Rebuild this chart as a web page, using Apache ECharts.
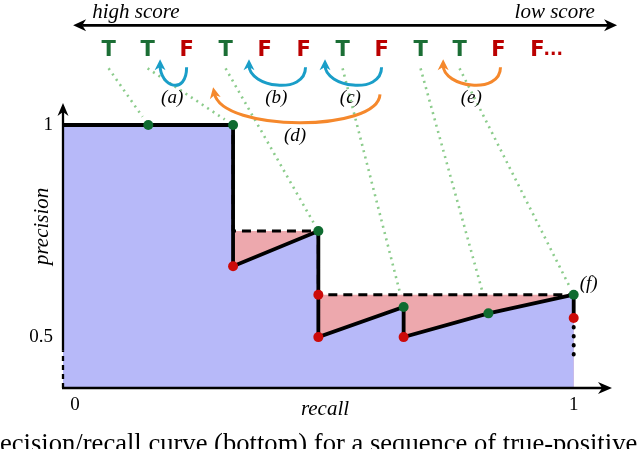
<!DOCTYPE html>
<html>
<head>
<meta charset="utf-8">
<title>precision / recall</title>
<script src="https://cdn.jsdelivr.net/npm/echarts@6/dist/echarts.min.js"></script>
<style>
  html, body { margin: 0; padding: 0; background: #fff; }
  #chart { width: 640px; height: 449px; }
</style>
</head>
<body>
<div id="chart"></div>
<script>
// ranked predictions, highest score first
const sequence = ['T', 'T', 'F', 'T', 'F', 'F', 'T', 'F', 'T', 'T', 'F', 'F'];
// recall / precision after each prediction (the last F is only hinted)
const recall = [0.167, 0.333, 0.333, 0.5, 0.5, 0.5, 0.667, 0.667, 0.833, 1, 1];
const precision = [1, 1, 0.667, 0.75, 0.6, 0.5, 0.571, 0.5, 0.556, 0.6, 0.545];
// interpolated precision (dashed envelope)
const envRecall = [0, 0.333, 0.333, 0.5, 0.5, 1];
const envPrecision = [1, 1, 0.75, 0.75, 0.6, 0.6];
const curveStart = [0, 1];
const tailEnd = 0.455; // dotted continuation at recall 1
const xTicks = [0, 1];
const yTicks = [0.5, 1];
// swaps under the sequence (positions in sequence index units)
const swaps = [
	{ name: '(a)', from: 2, to: 1.32, at: 1.63, kind: 'blue' },
	{ name: '(b)', from: 5.05, to: 3.6, at: 4.3, kind: 'blue' },
	{ name: '(c)', from: 7, to: 5.55, at: 6.2, kind: 'blue' },
	{ name: '(d)', from: 6.96, to: 2.68, at: 4.78, kind: 'orange', low: true },
	{ name: '(e)', from: 10.05, to: 8.58, at: 9.3, kind: 'orange' },
];

// layout
const X_MAX = 1.075, Y_MIN = 0.38, Y_MAX = 1.29;
const SEQ_MIN = -1.17, SEQ_MAX = 12.91;
const ROW = 1.176; // level of the letter row
const AXIS_TOP = 1.052, AXIS_BREAK = 0.469;
const SERIF = '"Liberation Serif", "DejaVu Serif", serif';
const BLUE_FILL = '#b7b9f9', PINK = '#eda8ad';
const GREEN = '#0f6b30', RED = '#cc0a0a';
const T_GREEN = '#1b6e35', F_RED = '#bb0000';
const ARROW_BLUE = '#1a9ec8', ARROW_ORANGE = '#f5882c', DOTS = '#8ccc8c';

// stealth-like arrow head, tip pointing away from "from"
function head(tip, from, len, wid, color) {
	let dx = tip[0] - from[0], dy = tip[1] - from[1];
	const d = Math.hypot(dx, dy);
	dx /= d; dy /= d;
	const bx = tip[0] - dx * len, by = tip[1] - dy * len;
	const nx = tip[0] - dx * len * 0.7, ny = tip[1] - dy * len * 0.7;
	return {
		type: 'polygon',
		shape: { points: [tip, [bx - dy * wid / 2, by + dx * wid / 2], [nx, ny], [bx + dy * wid / 2, by - dx * wid / 2]] },
		style: { fill: color },
	};
}
function pullBack(tip, from, dist) {
	const dx = tip[0] - from[0], dy = tip[1] - from[1];
	const d = Math.hypot(dx, dy);
	return [tip[0] - dx / d * dist, tip[1] - dy / d * dist];
}

const pts = recall.map((r, i) => [r, precision[i]]);
const tIdx = [], fIdx = [];
sequence.forEach((s, i) => {
	if (i >= recall.length) return;
	(s === 'T' ? tIdx : fIdx).push(i);
});
const greenData = tIdx.map((i, k) => {
	const item = { value: pts[i] };
	if (k === tIdx.length - 1) {
		item.label = {
			show: true, formatter: '(f)', position: 'right', distance: 1, offset: [0, -11],
			fontFamily: SERIF, fontStyle: 'italic', fontSize: 19, color: '#000',
		};
	}
	return item;
});

const chart = echarts.init(document.getElementById('chart'), null, { renderer: 'canvas' });

const option = {
	animation: false,
	title: {
		text: 'ecision/recall curve (bottom) for a sequence of true-positive',
		left: 0, top: 431, padding: 0,
		textStyle: { fontFamily: SERIF, fontSize: 26.6, fontWeight: 'normal', color: '#000', lineHeight: 28 },
	},
	grid: { left: 63, right: 28, top: 2, bottom: 61, outerBoundsMode: 'none' },
	xAxis: [
		{
			type: 'value', min: 0, max: X_MAX, position: 'bottom',
			axisLine: { show: false }, axisTick: { show: false }, splitLine: { show: false },
			axisLabel: {
				customValues: xTicks, margin: 8, fontSize: 19, fontFamily: SERIF, color: '#000',
				formatter: (v) => (v === 0 ? '{o|' + v + '}' : String(v)),
				rich: { o: { padding: [0, 0, 0, 24], fontSize: 19, fontFamily: SERIF, color: '#000' } },
			},
			name: 'recall', nameLocation: 'middle', nameGap: 11, nameMoveOverlap: false,
			nameTextStyle: { fontFamily: SERIF, fontStyle: 'italic', fontSize: 21, color: '#000', padding: [0, 25, 0, 0] },
		},
		{
			type: 'value', min: SEQ_MIN, max: SEQ_MAX, position: 'top', show: false,
		},
	],
	yAxis: {
		type: 'value', min: Y_MIN, max: Y_MAX,
		axisLine: { show: false }, axisTick: { show: false }, splitLine: { show: false },
		axisLabel: { customValues: yTicks, margin: 10, fontSize: 19, fontFamily: SERIF, color: '#000' },
	},
	series: [
		{
			// dotted guides from each T to its point
			type: 'custom', z: 1, silent: true,
			data: tIdx.map((i) => [recall[i], precision[i], i]),
			renderItem: (params, api) => {
				const cs = params.coordSys;
				const end = api.coord([api.value(0), api.value(1)]);
				const sx = cs.x + (api.value(2) - SEQ_MIN) / (SEQ_MAX - SEQ_MIN) * cs.width;
				const start = [sx, api.coord([0, ROW])[1] + 18];
				const e = pullBack(end, start, 10);
				return {
					type: 'line',
					shape: { x1: start[0], y1: start[1], x2: e[0], y2: e[1] },
					style: { stroke: DOTS, lineWidth: 2.6, lineDash: [2, 4.5] },
				};
			},
		},
		{
			// interpolated envelope area (pink shows between the curves)
			type: 'line', z: 2, silent: true, symbol: 'none',
			data: envRecall.map((r, i) => [r, envPrecision[i]]),
			lineStyle: { opacity: 0 },
			areaStyle: { color: PINK, opacity: 1, origin: 'start' },
		},
		{
			type: 'line', z: 3, silent: true, symbol: 'none',
			data: [curveStart].concat(pts),
			lineStyle: { opacity: 0 },
			areaStyle: { color: BLUE_FILL, opacity: 1, origin: 'start' },
		},
		{
			type: 'line', z: 4, silent: true, symbol: 'none',
			data: envRecall.map((r, i) => [r, envPrecision[i]]),
			lineStyle: { color: '#000', width: 3, type: [9, 6] },
		},
		{
			type: 'line', z: 5, silent: true, symbol: 'none',
			data: [curveStart].concat(pts),
			lineStyle: { color: '#000', width: 3.8, join: 'miter' },
		},
		{
			type: 'line', z: 5, silent: true, symbol: 'none',
			data: [pts[pts.length - 1], [1, tailEnd]],
			lineStyle: { color: '#000', width: 4, type: [0.5, 8.5], cap: 'round' },
		},
		{
			// axes with arrow heads, y axis broken below 0.5
			type: 'custom', z: 6, silent: true,
			data: [[0, Y_MIN]],
			renderItem: (params, api) => {
				const o = api.coord([0, Y_MIN]);
				const xe = api.coord([X_MAX, Y_MIN]);
				const yb = api.coord([0, AXIS_BREAK]);
				const yt = api.coord([0, AXIS_TOP]);
				const xl = pullBack(xe, o, 9);
				const yl = pullBack(yt, yb, 9);
				const lab = api.coord([0, 0.761]);
				return {
					type: 'group',
					children: [
						{ type: 'line', shape: { x1: o[0] - 1, y1: o[1], x2: xl[0], y2: xl[1] }, style: { stroke: '#000', lineWidth: 2.3 } },
						head(xe, o, 14, 12, '#000'),
						{ type: 'line', shape: { x1: yb[0], y1: yb[1], x2: yl[0], y2: yl[1] }, style: { stroke: '#000', lineWidth: 2.3 } },
						head(yt, yb, 13, 11, '#000'),
						{ type: 'line', shape: { x1: o[0], y1: o[1], x2: yb[0], y2: yb[1] }, style: { stroke: '#000', lineWidth: 2.3, lineDash: [5, 4] } },
						{
							type: 'text', x: lab[0] - 21, y: lab[1], rotation: Math.PI / 2,
							style: { text: 'precision', fill: '#000', font: 'italic 21px ' + SERIF, align: 'center', verticalAlign: 'middle' },
						},
					],
				};
			},
		},
		{
			type: 'scatter', z: 7, silent: true, symbolSize: 10,
			itemStyle: { color: GREEN, opacity: 1 },
			data: greenData,
		},
		{
			type: 'scatter', z: 7, silent: true, symbolSize: 10,
			itemStyle: { color: RED, opacity: 1 },
			data: fIdx.map((i) => pts[i]),
		},
		{
			// the T / F sequence
			type: 'custom', z: 7, silent: true, xAxisIndex: 1,
			data: sequence.map((s, i) => [i, ROW]),
			renderItem: (params, api) => {
				const p = api.coord([api.value(0), api.value(1)]);
				const s = sequence[params.dataIndex];
				const color = s === 'T' ? T_GREEN : F_RED;
				const font = 'bold 21px "DejaVu Sans", sans-serif';
				const children = [
					{ type: 'text', x: p[0], y: p[1], style: { text: s, fill: color, font, align: 'center', verticalAlign: 'middle' } },
				];
				if (params.dataIndex === sequence.length - 1) {
					children.push({ type: 'text', x: p[0] + 6, y: p[1], style: { text: '...', fill: color, font: 'bold 17px "DejaVu Sans", sans-serif', align: 'left', verticalAlign: 'middle' } });
				}
				return { type: 'group', children };
			},
		},
		{
			// curved swap arrows
			type: 'custom', z: 7, silent: true, xAxisIndex: 1,
			data: swaps.map((s) => [s.from, ROW]),
			renderItem: (params, api) => {
				const s = swaps[params.dataIndex];
				const y0 = api.coord([0, ROW])[1];
				const xs = api.coord([s.from, ROW])[0];
				const xt = api.coord([s.to, ROW])[0];
				const xa = api.coord([s.at, ROW])[0];
				const color = s.kind === 'blue' ? ARROW_BLUE : ARROW_ORANGE;
				let p0, tip, c1, c2, ly;
				if (s.low) {
					p0 = [xs, y0 + 44]; tip = [xt, y0 + 37];
					c1 = [xs - 2, y0 + 82]; c2 = [xt + 9, y0 + 82]; ly = y0 + 86;
				} else {
					p0 = [xs, y0 + 17]; tip = [xt, y0 + 9];
					c1 = [xs, y0 + 45]; c2 = [xt, y0 + 37]; ly = y0 + 48;
				}
				const e = pullBack(tip, c2, 6);
				return {
					type: 'group',
					children: [
						{
							type: 'bezierCurve',
							shape: { x1: p0[0], y1: p0[1], cpx1: c1[0], cpy1: c1[1], cpx2: c2[0], cpy2: c2[1], x2: e[0], y2: e[1] },
							style: { stroke: color, lineWidth: 3, fill: 'none' },
						},
						head(tip, c2, 11, 11, color),
						{ type: 'text', x: xa, y: ly, style: { text: s.name, fill: '#000', font: 'italic 19px ' + SERIF, align: 'center', verticalAlign: 'middle' } },
					],
				};
			},
		},
		{
			// score direction arrow
			type: 'custom', z: 7, silent: true, xAxisIndex: 1,
			data: [[0, ROW]],
			renderItem: (params, api) => {
				const y0 = api.coord([0, ROW])[1];
				const y = y0 - 25;
				const l = [api.coord([-0.91, ROW])[0], y];
				const r = [api.coord([13.04, ROW])[0], y];
				const l2 = pullBack(l, r, 9), r2 = pullBack(r, l, 9);
				const font = 'italic 21px ' + SERIF;
				return {
					type: 'group',
					children: [
						{ type: 'line', shape: { x1: l2[0], y1: y, x2: r2[0], y2: y }, style: { stroke: '#000', lineWidth: 2.6 } },
						head(l, r, 13, 12, '#000'),
						head(r, l, 13, 12, '#000'),
						{ type: 'text', x: api.coord([-0.42, ROW])[0], y: y0 - 38, style: { text: 'high score', fill: '#000', font, align: 'left', verticalAlign: 'middle' } },
						{ type: 'text', x: api.coord([12.47, ROW])[0], y: y0 - 38, style: { text: 'low score', fill: '#000', font, align: 'right', verticalAlign: 'middle' } },
					],
				};
			},
		},
	],
};

chart.setOption(option);
</script>
</body>
</html>
